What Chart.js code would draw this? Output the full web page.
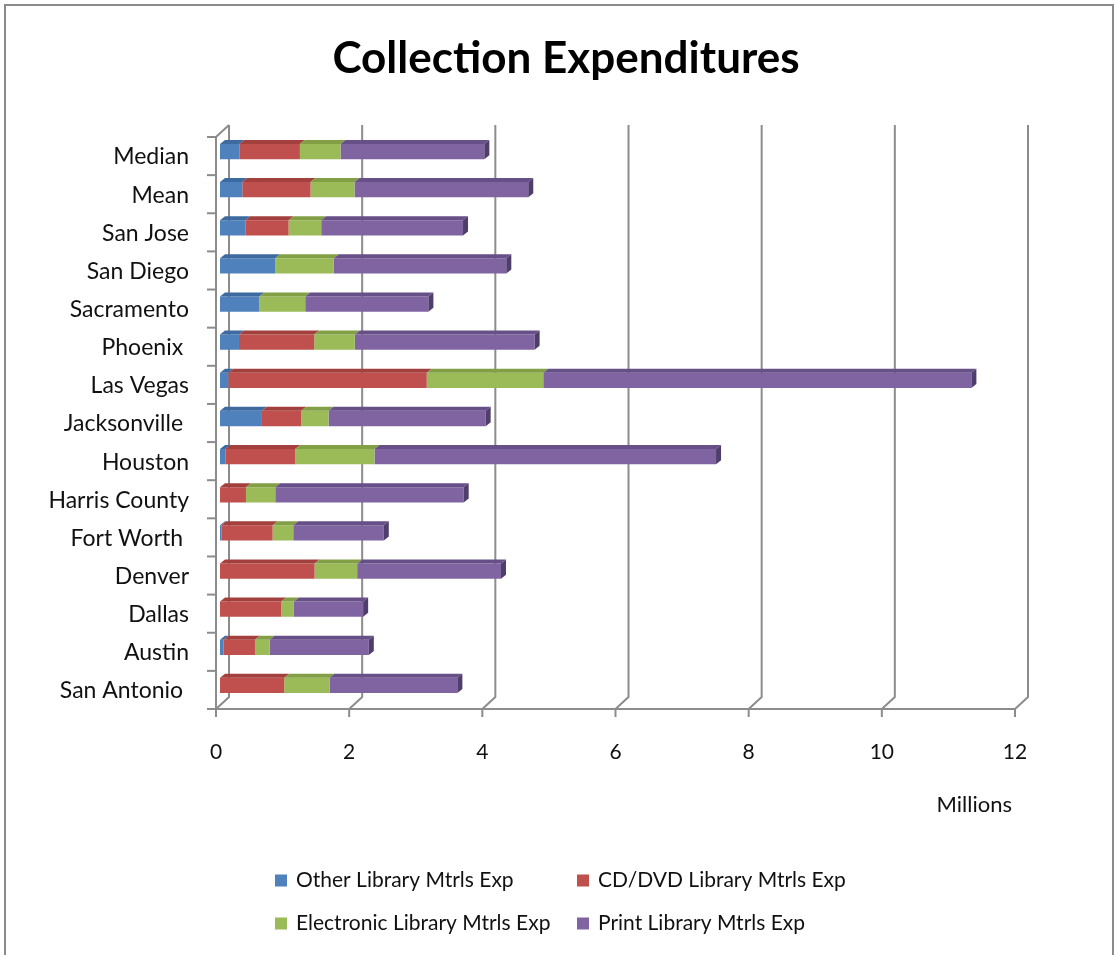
<!DOCTYPE html>
<html>
<head>
<meta charset="utf-8">
<title>Collection Expenditures</title>
<script src="https://cdn.jsdelivr.net/npm/chart.js@4.4.1/dist/chart.umd.min.js"></script>
<style>
  html, body { margin: 0; padding: 0; background: #fff; }
  #wrap { position: relative; width: 1118px; height: 955px; overflow: hidden; }
  #frame { position: absolute; left: 4px; top: 4px; width: 1110px; height: 1000px; border: 2px solid #8a8a8a; box-sizing: border-box; }
  #chart { position: absolute; left: 0; top: 0; }
</style>
</head>
<body>
<div id="wrap">
  <div id="frame"></div>
  <canvas id="chart" width="1118" height="955"></canvas>
</div>
<script>
// categories, top to bottom as in the picture
var cities = ["Median", "Mean", "San Jose", "San Diego", "Sacramento", "Phoenix ", "Las Vegas",
  "Jacksonville ", "Houston", "Harris County", "Fort Worth ", "Denver", "Dallas", "Austin", "San Antonio "];

// values in millions of dollars
var otherExp      = [0.29, 0.335, 0.38, 0.83, 0.59, 0.285, 0.125, 0.63, 0.08, 0, 0.02, 0, 0, 0.055, 0];
var cdDvdExp      = [0.91, 1.025, 0.65, 0, 0, 1.13, 2.98, 0.59, 1.05, 0.39, 0.77, 1.42, 0.92, 0.47, 0.965];
var electronicExp = [0.61, 0.66, 0.49, 0.88, 0.69, 0.61, 1.75, 0.41, 1.19, 0.44, 0.31, 0.64, 0.19, 0.22, 0.68];
var printExp      = [2.16, 2.61, 2.13, 2.59, 1.85, 2.70, 6.43, 2.36, 5.13, 2.83, 1.36, 2.16, 1.04, 1.49, 1.92];

var xTicks = [0, 2, 4, 6, 8, 10, 12];

var chartTitle = "Collection Expenditures";
var axisTitle = "Millions";

var FONT = "Lato, 'Open Sans', sans-serif";
var GRID = "#8c8c8c";
// depth of the fake 3d box
var DX = 13, DY = 12;

// back wall, floor and axis lines, drawn from the scales
var frame3d = {
  id: "frame3d",
  beforeDatasetsDraw: function(chart) {
    var c = chart.ctx, a = chart.chartArea;
    var xs = chart.scales.x;
    var fx = -4, fy = 4.5;          // front plane offset
    var bx = fx + DX, by = fy - DY; // back plane offset
    c.save();
    c.strokeStyle = GRID;
    c.lineWidth = 2;
    xTicks.forEach(function(v) {
      var px = xs.getPixelForValue(v);
      c.beginPath();
      c.moveTo(px + bx, a.top + by);
      c.lineTo(px + bx, a.bottom + by);
      c.lineTo(px + fx, a.bottom + fy);
      c.stroke();
      c.beginPath();
      c.moveTo(px + fx, a.bottom + fy);
      c.lineTo(px + fx, a.bottom + fy + 8);
      c.stroke();
    });
    c.beginPath();
    c.moveTo(a.left + bx, a.top + by);
    c.lineTo(a.left + fx, a.top + fy);
    c.lineTo(a.left + fx, a.bottom + fy);
    c.lineTo(a.right + fx, a.bottom + fy);
    c.stroke();
    var step = (a.bottom - a.top) / cities.length;
    for (var i = 0; i <= cities.length; i++) {
      var py = a.top + fy + i * step;
      c.beginPath();
      c.moveTo(a.left + fx - 9, py);
      c.lineTo(a.left + fx, py);
      c.stroke();
    }
    c.restore();
  },
  afterDatasetsDraw: function(chart) {
    // top faces of every segment and the dark end cap
    var c = chart.ctx;
    var d = 4, e = 5;
    var n = chart.data.datasets.length;
    c.save();
    chart.data.datasets.forEach(function(ds, di) {
      var meta = chart.getDatasetMeta(di);
      meta.data.forEach(function(bar) {
        var p = bar.getProps(["x", "y", "base", "height"], true);
        if (Math.abs(p.x - p.base) < 0.5) return;
        var top = p.y - p.height / 2, bot = p.y + p.height / 2;
        c.fillStyle = ds.topColor;
        c.beginPath();
        c.moveTo(p.base, top);
        c.lineTo(p.base + e, top - d);
        c.lineTo(p.x + e, top - d);
        c.lineTo(p.x, top);
        c.closePath();
        c.fill();
        if (di === n - 1) {
          c.fillStyle = ds.sideColor;
          c.beginPath();
          c.moveTo(p.x, top);
          c.lineTo(p.x + e, top - d);
          c.lineTo(p.x + e, bot - d);
          c.lineTo(p.x, bot);
          c.closePath();
          c.fill();
        }
      });
    });
    c.restore();
  },
  afterDraw: function(chart) {
    var c = chart.ctx, a = chart.chartArea;
    c.save();
    // title, centred on the whole frame
    c.fillStyle = "#000";
    c.font = "bold 44px " + FONT;
    c.textAlign = "center";
    c.textBaseline = "middle";
    c.fillText(chartTitle, 566, a.top - 74);
    // axis unit
    c.fillStyle = "#111";
    c.font = "22px " + FONT;
    c.textAlign = "right";
    c.fillText(axisTitle, a.right - 7, a.bottom + 100);
    // two-column legend
    var cols = [275, 577];
    var rows = [a.bottom + 176, a.bottom + 219];
    c.font = "21px " + FONT;
    c.textAlign = "left";
    chart.data.datasets.forEach(function(ds, i) {
      var x = cols[i % 2], y = rows[Math.floor(i / 2)];
      c.fillStyle = ds.backgroundColor;
      c.fillRect(x, y - 6, 12, 12);
      c.fillStyle = "#111";
      c.fillText(ds.label, x + 21, y);
    });
    c.restore();
  }
};

var ctx = document.getElementById("chart").getContext("2d");
var chart = new Chart(ctx, {
  type: "bar",
  data: {
    labels: cities,
    datasets: [
      { label: "Other Library Mtrls Exp", data: otherExp, backgroundColor: "#4f81bd", topColor: "#3d6a9f", sideColor: "#34598a" },
      { label: "CD/DVD Library Mtrls Exp", data: cdDvdExp, backgroundColor: "#c0504d", topColor: "#a3403d", sideColor: "#8a3532" },
      { label: "Electronic Library Mtrls Exp", data: electronicExp, backgroundColor: "#9bbb59", topColor: "#829f46", sideColor: "#6d873a" },
      { label: "Print Library Mtrls Exp", data: printExp, backgroundColor: "#8064a2", topColor: "#674f87", sideColor: "#4f3d6b" }
    ]
  },
  options: {
    indexAxis: "y",
    responsive: false,
    animation: false,
    categoryPercentage: 1,
    barPercentage: 0.4,
    layout: { padding: { left: 0, right: 99, top: 132.5, bottom: 135.5 } },
    plugins: {
      legend: { display: false },
      tooltip: { enabled: false },
      title: { display: false }
    },
    scales: {
      x: {
        stacked: true,
        min: 0,
        max: 12,
        grid: { display: false },
        border: { display: false },
        afterBuildTicks: function(s) { s.ticks = xTicks.map(function(v) { return { value: v }; }); },
        afterFit: function(s) { s.height = 115; },
        ticks: {
          color: "#111",
          font: { family: FONT, size: 21 },
          padding: 27,
          labelOffset: -4,
          maxRotation: 0
        }
      },
      y: {
        stacked: true,
        grid: { display: false },
        border: { display: false },
        afterFit: function(s) { s.width = 220; },
        ticks: {
          color: "#111",
          font: { family: FONT, size: 23 },
          padding: 23,
          labelOffset: 5.5,
          autoSkip: false
        }
      }
    }
  },
  plugins: [frame3d]
});
</script>
</body>
</html>
